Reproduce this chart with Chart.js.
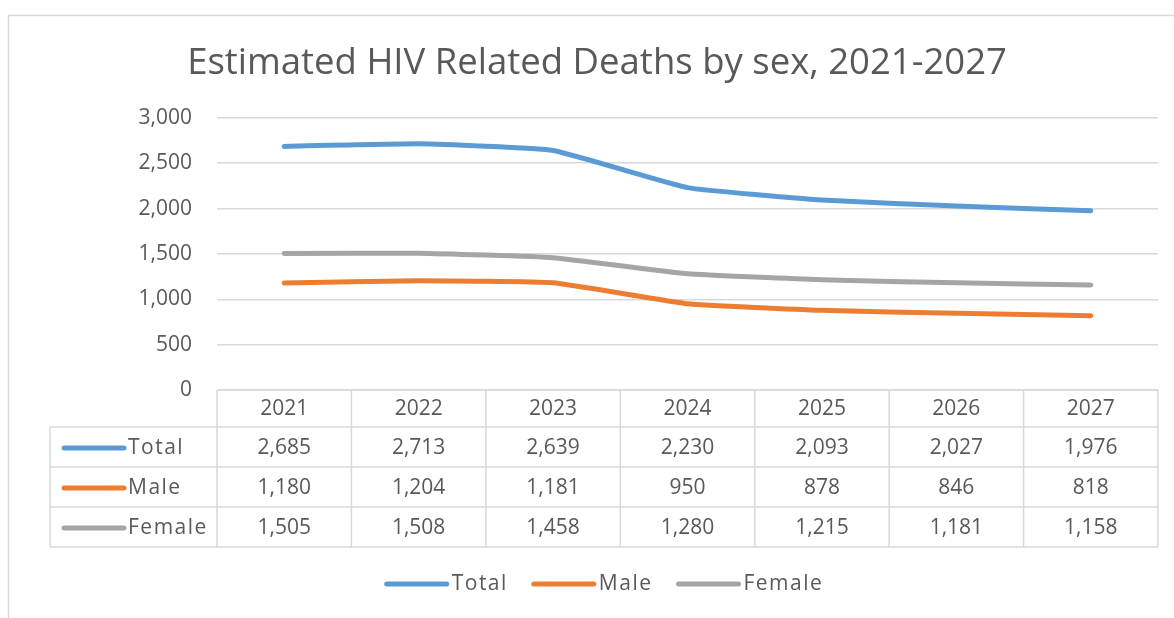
<!DOCTYPE html>
<html>
<head>
<meta charset="utf-8">
<title>Estimated HIV Related Deaths by sex</title>
<script src="https://cdn.jsdelivr.net/npm/chart.js@4"></script>
<style>
  html, body { margin: 0; padding: 0; background: #fff; }
  #deaths { position: absolute; left: 0; top: 0; }
</style>
</head>
<body>
<canvas id="deaths" width="1174" height="618"></canvas>
<script>
const years = ['2021', '2022', '2023', '2024', '2025', '2026', '2027']
const total = [2685, 2713, 2639, 2230, 2093, 2027, 1976]
const male = [1180, 1204, 1181, 950, 878, 846, 818]
const female = [1505, 1508, 1458, 1280, 1215, 1181, 1158]
const yTicks = [0, 500, 1000, 1500, 2000, 2500, 3000]

const textColor = '#595959'
const lineColor = '#d9d9d9'
const fontFamily = '"Open Sans", sans-serif'
const labelFont = '21px ' + fontFamily
const fmt = v => v.toLocaleString('en-US')

// short thick line used as a series key
function drawKey(ctx, color, x1, x2, y) {
    ctx.strokeStyle = color
    ctx.lineWidth = 5
    ctx.lineCap = 'round'
    ctx.beginPath()
    ctx.moveTo(x1, y); ctx.lineTo(x2, y)
    ctx.stroke()
}

// data table under the plot (one column per year) plus the legend below it
const dataTable = {
    id: 'dataTable',
    afterDraw(chart) {
        const ctx = chart.ctx
        const area = chart.chartArea
        const xs = chart.scales.x
        const sets = chart.data.datasets
        const colW = (area.right - area.left) / years.length
        const top = area.bottom
        const headH = 37
        const rowH = 40
        const tableLeft = 50
        const bottom = top + headH + rowH * sets.length

        ctx.save()
        ctx.strokeStyle = lineColor
        ctx.lineWidth = 1.5
        ctx.beginPath()
        ctx.moveTo(area.left, top); ctx.lineTo(area.right, top)
        for (let r = 0; r <= sets.length; r++) {
            const y = top + headH + rowH * r
            ctx.moveTo(tableLeft, y); ctx.lineTo(area.right, y)
        }
        for (let i = 0; i <= years.length; i++) {
            const x = area.left + colW * i
            ctx.moveTo(x, top); ctx.lineTo(x, bottom)
        }
        ctx.moveTo(tableLeft, top + headH); ctx.lineTo(tableLeft, bottom)
        ctx.stroke()

        ctx.fillStyle = textColor
        ctx.font = labelFont
        ctx.textBaseline = 'middle'
        ctx.textAlign = 'center'
        years.forEach((yr, i) => ctx.fillText(yr, xs.getPixelForValue(i), top + headH / 2 + 1))

        sets.forEach((ds, r) => {
            const cy = top + headH + rowH * r + rowH / 2 + 1
            ctx.textAlign = 'center'
            ctx.letterSpacing = '0px'
            ds.data.forEach((v, i) => ctx.fillText(fmt(v), xs.getPixelForValue(i), cy))
            drawKey(ctx, ds.borderColor, 64, 124, cy)
            ctx.textAlign = 'left'
            ctx.letterSpacing = '1.5px'
            ctx.fillText(ds.label, 128, cy)
        })

        // legend row
        const keyW = 64, gap = 3, itemGap = 24
        const widths = sets.map(ds => keyW + gap + ctx.measureText(ds.label).width)
        const legendW = widths.reduce((a, b) => a + b, 0) + itemGap * (sets.length - 1)
        let lx = (tableLeft + area.right) / 2 - legendW / 2
        const ly = bottom + 37
        sets.forEach((ds, i) => {
            drawKey(ctx, ds.borderColor, lx + 2, lx + keyW - 2, ly)
            ctx.textAlign = 'left'
            ctx.fillText(ds.label, lx + keyW + gap, ly)
            lx += widths[i] + itemGap
        })
        ctx.letterSpacing = '0px'

        // outer frame
        ctx.strokeStyle = lineColor
        ctx.lineWidth = 1.5
        ctx.strokeRect(8.5, 15.5, 1400, 800)
        ctx.restore()
    }
}

const config = {
    type: 'line',
    data: {
        labels: years,
        datasets: [
            { label: 'Total', data: total, borderColor: '#5b9bd5', backgroundColor: '#5b9bd5' },
            { label: 'Male', data: male, borderColor: '#ed7d31', backgroundColor: '#ed7d31' },
            { label: 'Female', data: female, borderColor: '#a5a5a5', backgroundColor: '#a5a5a5' }
        ]
    },
    options: {
        responsive: false,
        animation: false,
        devicePixelRatio: 1,
        datasets: {
            line: {
                borderWidth: 5,
                pointRadius: 0,
                tension: 0.12,
                borderCapStyle: 'round',
                borderJoinStyle: 'round'
            }
        },
        layout: {
            padding: { top: 18, left: 36, right: 16, bottom: 68 }
        },
        scales: {
            x: {
                offset: true,
                grid: { display: false },
                border: { display: false },
                ticks: { display: false },
                afterFit: s => { s.height = 160 }
            },
            y: {
                min: 0,
                max: 3000,
                afterBuildTicks: s => { s.ticks = yTicks.map(v => ({ value: v })) },
                ticks: {
                    color: textColor,
                    font: { family: fontFamily, size: 21 },
                    padding: 25,
                    callback: v => fmt(v)
                },
                grid: { color: lineColor, lineWidth: 1.5, drawTicks: false },
                border: { display: false },
                afterFit: s => { s.width = 181 }
            }
        },
        plugins: {
            title: {
                display: true,
                text: 'Estimated HIV Related Deaths by sex, 2021-2027',
                color: textColor,
                font: { family: fontFamily, size: 36.5, weight: 'normal' },
                padding: { top: 24, bottom: 32 }
            },
            legend: { display: false },
            tooltip: { enabled: false }
        }
    },
    plugins: [dataTable]
}

new Chart(document.getElementById('deaths'), config)
</script>
</body>
</html>
